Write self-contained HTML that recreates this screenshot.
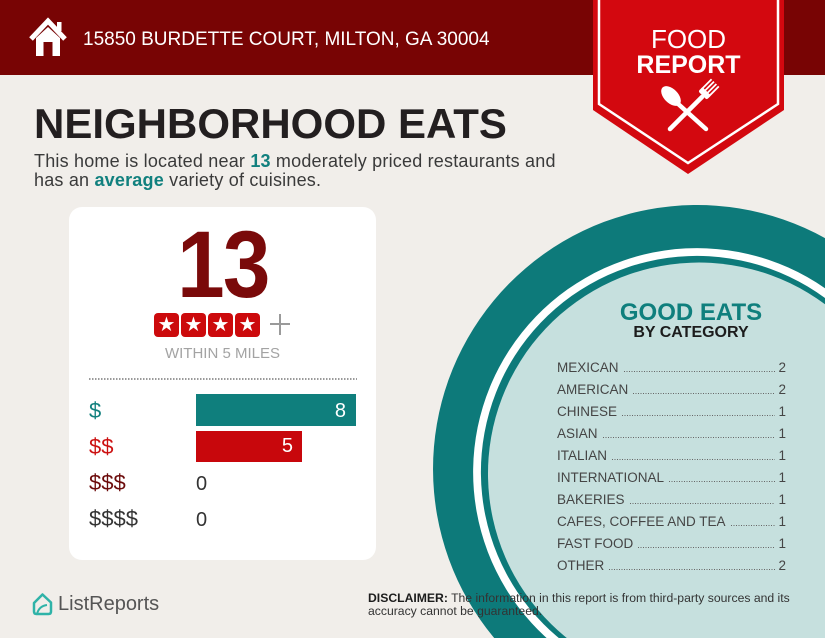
<!DOCTYPE html>
<html>
<head>
<meta charset="utf-8">
<style>
  html, body { margin:0; padding:0; overflow:hidden; width:825px; height:638px; }
  body { position:relative; background:#f1eeea; font-family:"Liberation Sans", Arial, sans-serif; }
  .abs { position:absolute; }
  .header { left:0; top:0; width:825px; height:75px; background:#780404; }
  .addr { left:83px; top:30px; font-size:19px; line-height:20px; color:#fff; white-space:nowrap; }
  .title { left:34px; top:100px; font-size:42px; line-height:48px; font-weight:bold; color:#231f20; white-space:nowrap; }
  .sub { left:34px; top:152px; font-size:18px; line-height:19px; letter-spacing:0.2px; color:#3a3a3a; white-space:nowrap; }
  .sub b { color:#11807e; }
  .card { left:69px; top:207px; width:307px; height:353px; background:#fff; border-radius:13px; }
  .big { left:69px; top:215px; width:307px; text-align:center; font-size:95px; line-height:100px; font-weight:bold; color:#7a0a0a; }
  .big span { display:inline-block; transform:scaleX(0.9); letter-spacing:-2px; }
  .star { top:313px; width:25px; height:24px; background:#cc0a0c; border-radius:4px; color:#fff; font-size:20px; line-height:24px; text-align:center; }
  .within { left:69px; top:346px; width:307px; text-align:center; font-size:15px; line-height:16px; color:#a3a3a3; }
  .dots { left:89px; top:378px; width:268px; height:2px; background-image:linear-gradient(to right, #9a9a9a 1.5px, transparent 1.5px); background-size:3px 1.5px; background-repeat:repeat-x; }
  .lbl { left:89px; font-size:22px; line-height:24px; }
  .zero { left:196px; font-size:20px; line-height:24px; color:#333; }
  .bar { left:196px; }
  .barnum { font-size:20px; color:#fff; line-height:24px; text-align:right; }
  .row { left:557px; width:229px; height:16px; display:flex; align-items:flex-end; font-size:13.5px; line-height:16px; color:#454545; white-space:nowrap; }
  .row .lead { flex:1; height:1.5px; margin:0 3px 4px 5px; background-image:linear-gradient(to right, #666 1px, transparent 1px); background-size:2.5px 1.5px; background-repeat:repeat-x; }
  .disc { left:368px; top:592px; font-size:12.2px; line-height:13px; color:#333; white-space:nowrap; }
  .lr { left:58px; top:592px; font-size:20px; line-height:24px; color:#555; }
</style>
</head>
<body>
<div class="abs header"></div>

<svg class="abs" style="left:0;top:0" width="825" height="638" viewBox="0 0 825 638">
  <path d="M825 238.1 A264 264 0 0 0 494.2 638 L825 638 Z" fill="#0d7a7a"/>
  <path d="M825 288.2 A224 224 0 0 0 546.6 638 L825 638 Z" fill="#ffffff"/>
  <path d="M825 298 A216 216 0 0 0 558.8 638 L825 638 Z" fill="#0d7a7a"/>
  <path d="M825 304.3 A211 211 0 0 0 566.8 638 L825 638 Z" fill="#c6e0de"/>
  <polygon points="593,0 784,0 784,110 688,174 593,110" fill="#d3080f"/>
  <polyline points="599,0 599,104 688,163 778,104 778,0" fill="none" stroke="#fff" stroke-width="2.5"/>
  <ellipse cx="671" cy="96" rx="7" ry="12" transform="rotate(-45 671 96)" fill="#fff"/>
  <line x1="676" y1="102" x2="706" y2="129" stroke="#fff" stroke-width="4.5" stroke-linecap="round"/>
  <line x1="702" y1="97" x2="670" y2="129" stroke="#fff" stroke-width="4.5" stroke-linecap="round"/>
  <g transform="rotate(45 706 92)" fill="#fff">
    <rect x="700" y="91" width="12" height="6" rx="2"/>
    <rect x="700" y="79" width="1.8" height="14"/>
    <rect x="703.4" y="79" width="1.8" height="14"/>
    <rect x="706.8" y="79" width="1.8" height="14"/>
    <rect x="710.2" y="79" width="1.8" height="14"/>
  </g>
  <polyline points="31,39 48,21 65,39" fill="none" stroke="#fff" stroke-width="5" stroke-linejoin="miter"/>
  <rect x="57" y="22" width="4.5" height="9" fill="#fff"/>
  <polygon points="36,38 48,27 60,38 60,56 36,56" fill="#fff"/>
  <rect x="43.5" y="42" width="9" height="14" fill="#780404"/>
  <path d="M34 603 L42.5 594.5 L51 602.5 L51 611.5 Q51 614 48.5 614 L36.5 614 Q34 614 34 611.5 Z" fill="none" stroke="#2fb3a8" stroke-width="2.5" stroke-linejoin="round"/>
  <path d="M37 614 Q39 606 47 605" fill="none" stroke="#2fb3a8" stroke-width="2"/>
</svg>

<div class="abs addr">15850 BURDETTE COURT, MILTON, GA 30004</div>

<div class="abs" style="left:593px;top:24px;width:191px;text-align:center;font-size:26px;line-height:30px;color:#fff;">FOOD</div>
<div class="abs" style="left:593px;top:50px;width:191px;text-align:center;font-size:25px;line-height:30px;font-weight:bold;color:#fff;">REPORT</div>

<div class="abs title">NEIGHBORHOOD EATS</div>
<div class="abs sub">This home is located near <b>13</b> moderately priced restaurants and<br>has an <b>average</b> variety of cuisines.</div>

<div class="abs card"></div>
<div class="abs big"><span>13</span></div>
<div class="abs star" style="left:154px">★</div>
<div class="abs star" style="left:181px">★</div>
<div class="abs star" style="left:208px">★</div>
<div class="abs star" style="left:235px">★</div>
<div class="abs" style="left:270px;top:323px;width:20px;height:2px;background:#9a9a9a"></div>
<div class="abs" style="left:279px;top:314px;width:2px;height:21px;background:#9a9a9a"></div>
<div class="abs within">WITHIN 5 MILES</div>
<div class="abs dots"></div>

<div class="abs lbl" style="top:399px;color:#11807e">$</div>
<div class="abs bar" style="top:394px;width:160px;height:32px;background:#0f7f7d"></div>
<div class="abs barnum" style="left:196px;top:399px;width:150px;">8</div>

<div class="abs lbl" style="top:435px;color:#cc1111">$$</div>
<div class="abs bar" style="top:431px;width:106px;height:31px;background:#c8070c"></div>
<div class="abs barnum" style="left:196px;top:434px;width:97px;">5</div>

<div class="abs lbl" style="top:471px;color:#6b0a0a">$$$</div>
<div class="abs zero" style="top:472px">0</div>

<div class="abs lbl" style="top:507px;color:#333">$$$$</div>
<div class="abs zero" style="top:508px">0</div>

<div class="abs" style="left:600px;top:300px;width:182px;text-align:center;font-size:24px;line-height:26px;font-weight:bold;color:#0f7f7d;">GOOD EATS</div>
<div class="abs" style="left:600px;top:324px;width:182px;text-align:center;font-size:16px;line-height:18px;font-weight:bold;color:#1c1c1c;">BY CATEGORY</div>

<div class="abs row" style="top:360px"><span>MEXICAN</span><span class="lead"></span><span>2</span></div>
<div class="abs row" style="top:382px"><span>AMERICAN</span><span class="lead"></span><span>2</span></div>
<div class="abs row" style="top:404px"><span>CHINESE</span><span class="lead"></span><span>1</span></div>
<div class="abs row" style="top:426px"><span>ASIAN</span><span class="lead"></span><span>1</span></div>
<div class="abs row" style="top:448px"><span>ITALIAN</span><span class="lead"></span><span>1</span></div>
<div class="abs row" style="top:470px"><span>INTERNATIONAL</span><span class="lead"></span><span>1</span></div>
<div class="abs row" style="top:492px"><span>BAKERIES</span><span class="lead"></span><span>1</span></div>
<div class="abs row" style="top:514px"><span>CAFES, COFFEE AND TEA</span><span class="lead"></span><span>1</span></div>
<div class="abs row" style="top:536px"><span>FAST FOOD</span><span class="lead"></span><span>1</span></div>
<div class="abs row" style="top:558px"><span>OTHER</span><span class="lead"></span><span>2</span></div>

<div class="abs disc"><b style="color:#1c1c1c">DISCLAIMER:</b> The information in this report is from third-party sources and its<br>accuracy cannot be guaranteed.</div>

<div class="abs lr">ListReports</div>
</body>
</html>
